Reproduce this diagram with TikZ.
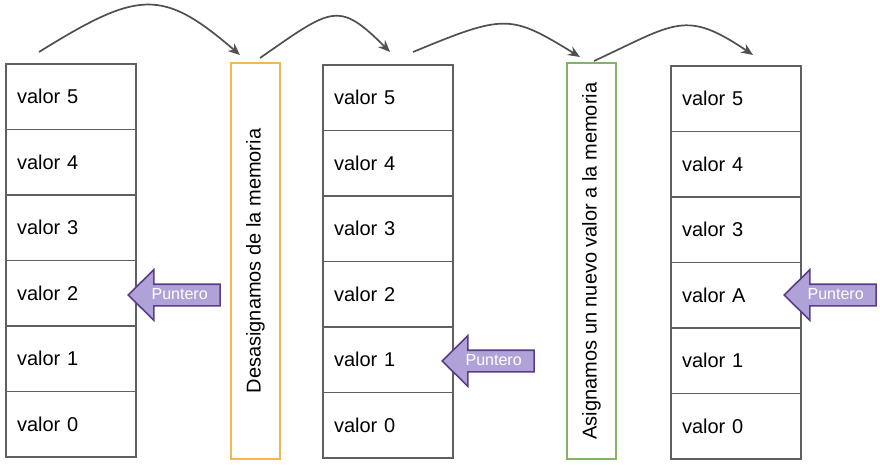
\documentclass[tikz,border=0pt]{standalone}
\usepackage{fontspec}
\setmainfont{Liberation Sans}
\usetikzlibrary{arrows.meta,positioning,shapes.arrows}

\definecolor{celldraw}{RGB}{96,96,96}
\definecolor{arcdraw}{RGB}{80,80,80}
\definecolor{freeorange}{RGB}{245,182,82}
\definecolor{asiggreen}{RGB}{130,179,102}
\definecolor{ptrfill}{RGB}{176,162,216}
\definecolor{ptrdraw}{RGB}{88,60,138}

\tikzset{
  cell/.style={draw=celldraw, line width=1.5pt, outer sep=0pt,
    minimum height=65.5pt, text width=108pt, inner xsep=11pt, align=left,
    font=\fontsize{20}{24}\selectfont},
  opbox/.style={line width=1.3pt, rotate=90, minimum width=396pt,
    minimum height=49pt, font=\fontsize{20}{24}\selectfont},
  ptr/.style={single arrow, shape border rotate=180, anchor=tip,
    draw=ptrdraw, fill=ptrfill, line width=1.6pt, text=white,
    font=\fontsize{16}{18}\selectfont, minimum height=92pt,
    single arrow head extend=14.5pt, single arrow tip angle=89,
    inner ysep=3pt, inner xsep=4pt, text height=11pt, text depth=3pt},
  arc/.style={->, draw=arcdraw, line width=1.7pt}
}

\begin{document}
\begin{tikzpicture}[x=1pt, y=1pt, node distance=0pt,
    >={Stealth[length=12pt, width=10pt, inset=4pt]}]
    \useasboundingbox (0,0) rectangle (880,464);

    % primera pila
    \node[cell, anchor=north] (a5) at (71,400) {valor 5};
    \node[cell, below=of a5]  (a4) {valor 4};
    \node[cell, below=of a4]  (a3) {valor 3};
    \node[cell, below=of a3]  (a2) {valor 2};
    \node[cell, below=of a2]  (a1) {valor 1};
    \node[cell, below=of a1]  (a0) {valor 0};

    % segunda pila
    \node[cell, anchor=north] (b5) at (388,399) {valor 5};
    \node[cell, below=of b5]  (b4) {valor 4};
    \node[cell, below=of b4]  (b3) {valor 3};
    \node[cell, below=of b3]  (b2) {valor 2};
    \node[cell, below=of b2]  (b1) {valor 1};
    \node[cell, below=of b1]  (b0) {valor 0};

    % tercera pila
    \node[cell, anchor=north] (c5) at (736,398) {valor 5};
    \node[cell, below=of c5]  (c4) {valor 4};
    \node[cell, below=of c4]  (c3) {valor 3};
    \node[cell, below=of c3]  (c2) {valor A};
    \node[cell, below=of c2]  (c1) {valor 1};
    \node[cell, below=of c1]  (c0) {valor 0};

    % operaciones
    \node[opbox, draw=freeorange] (free) at (255.5,203) {Desasignamos de la memoria};
    \node[opbox, draw=asiggreen]  (asig) at (591.5,203) {Asignamos un nuevo valor a la memoria};

    % punteros
    \node[ptr] (p1) at (127,169) {Puntero};
    \node[ptr] (p2) at (441,103) {Puntero};
    \node[ptr] (p3) at (783,169) {Puntero};

    \coordinate (s1) at (39,412);  \coordinate (e1) at (240,409);
    \coordinate (s2) at (260,406); \coordinate (e2) at (390,412);
    \coordinate (s3) at (413,412); \coordinate (e3) at (580,407);
    \coordinate (s4) at (594,403); \coordinate (e4) at (753,409);

    \draw[arc] (s1) .. controls +(100,62) and +(-78,67) .. (e1);
    \draw[arc] (s2) .. controls +(72,50) and +(-52,52) .. (e2);
    \draw[arc] (s3) .. controls +(92,38) and +(-70,43) .. (e3);
    \draw[arc] (s4) .. controls +(82,38) and +(-68,46) .. (e4);
\end{tikzpicture}
\end{document}
